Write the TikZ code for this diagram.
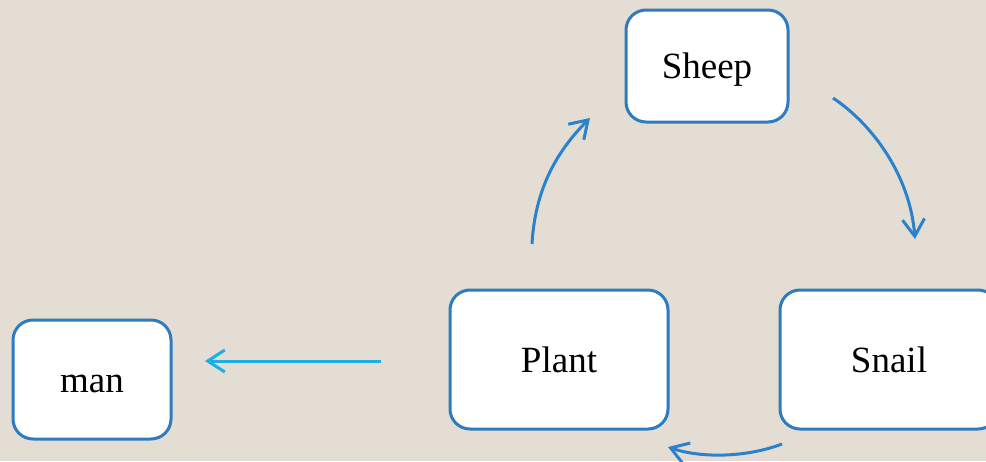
\documentclass[tikz,border=0pt]{standalone}
\usepackage{fontspec}
\setmainfont{Liberation Serif}
\usetikzlibrary{arrows.meta}
\definecolor{paper}{HTML}{E3DDD3}
\definecolor{boxline}{HTML}{2E7BBF}
\definecolor{flow}{HTML}{2A82CC}
\definecolor{flowlight}{HTML}{1CAFE6}
\tikzset{
  stagebox/.style={draw=boxline, line width=3pt, fill=white, rounded corners=20pt,
    inner sep=0pt, outer sep=0pt, text height=33pt, text depth=8pt,
    font=\fontsize{37}{44}\selectfont},
  cyclearrow/.style={draw=flow, line width=3pt,
    -{Straight Barb[length=17pt,width=22pt,line width=3pt]}},
  sidearrow/.style={draw=flowlight, line width=3pt,
    -{Straight Barb[length=17pt,width=22pt,line width=3pt]}}
}
\begin{document}
\begin{tikzpicture}[x=1pt,y=-1pt]
  \fill[paper] (0,0) rectangle (986,461);
  \useasboundingbox (0,0) rectangle (986,461);
  \clip (0,0) rectangle (986,461);

  % the four stages
  \node[stagebox, minimum width=162pt, minimum height=112pt] (sheep) at (707,66) {Sheep};
  \node[stagebox, minimum width=218pt, minimum height=139pt] (plant) at (559,359.5) {Plant};
  \node[stagebox, minimum width=218pt, minimum height=139pt] (snail) at (889,359.5) {Snail};
  \node[stagebox, minimum width=158pt, minimum height=119pt] (man) at (92,379.5) {man};

  % free ends of the connectors
  \coordinate (plantTop) at (532,244);
  \coordinate (sheepLeft) at (590,118);
  \coordinate (sheepRight) at (833,98);
  \coordinate (snailTop) at (915,239);
  \coordinate (snailLow) at (782,444);
  \coordinate (plantLow) at (668,447);
  \coordinate (plantLeft) at (381,361);
  \coordinate (manRight) at (205,361);

  % the cycle
  \draw[cyclearrow] (plantTop) .. controls (535,190) and (556,152) .. (sheepLeft);
  \draw[cyclearrow] (sheepRight) .. controls (872,124) and (910,175) .. (snailTop);
  \draw[cyclearrow] (snailLow) .. controls (745,458) and (700,458) .. (plantLow);

  % plant to man
  \draw[sidearrow] (plantLeft) -- (manRight);
\end{tikzpicture}
\end{document}
